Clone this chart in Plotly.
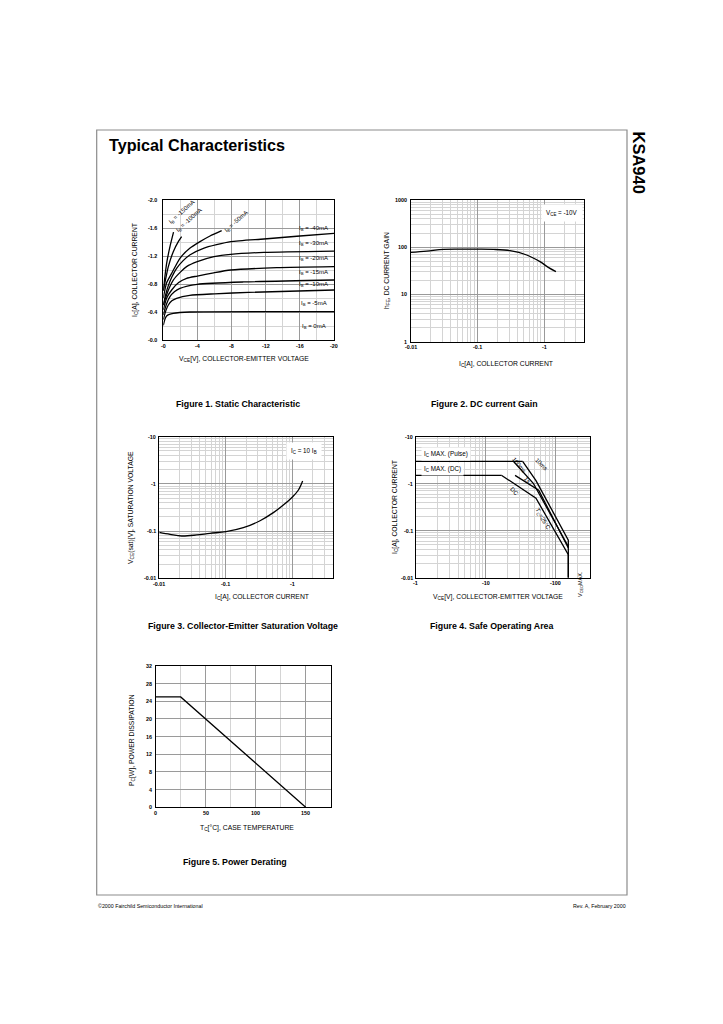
import math
import plotly.graph_objects as go

W, H = 723, 1024
FONT = "Liberation Sans, Arial, sans-serif"
MAJOR = "#9a9a9a"
MINOR = "#d4d4d4"

# ---- Figure 1: static characteristic (V_CE [V], I_C [A]) ----
ib_labels = ["-5mA", "-10mA", "-15mA", "-20mA", "-30mA", "-40mA", "-50mA", "-100mA", "-150mA"]
f1_v = [
    [0, -0.2, -0.39, -0.7, -1.17, -3.1, -20],
    [0, -0.3, -0.59, -1.0, -1.56, -3.1, -6, -10, -20],
    [0, -0.4, -0.78, -1.3, -1.95, -3.98, -9.4, -20],
    [0, -0.4, -0.98, -1.8, -2.73, -3.98, -5.9, -7.9, -13.3, -20],
    [0, -0.4, -0.8, -1.17, -2.0, -2.73, -3.98, -5.94, -7.9, -11.8, -20],
    [0, -0.3, -0.6, -1.0, -1.56, -2.3, -3.1, -4.7, -7.9, -11.8, -16, -20],
    [0, -0.4, -0.98, -1.95, -3.1, -4.3, -5.47, -6.84],
    [0, -0.59, -1.17, -1.76, -2.15],
    [0, -0.39, -0.78, -1.2],
]
f1_i = [
    [-0.21, -0.3, -0.343, -0.365, -0.381, -0.4, -0.405],
    [-0.29, -0.42, -0.5, -0.56, -0.595, -0.638, -0.66, -0.68, -0.714],
    [-0.36, -0.52, -0.62, -0.69, -0.738, -0.795, -0.829, -0.857],
    [-0.43, -0.6, -0.714, -0.82, -0.881, -0.914, -0.96, -1.0, -1.033, -1.048],
    [-0.5, -0.65, -0.77, -0.857, -0.97, -1.048, -1.119, -1.19, -1.224, -1.252, -1.271],
    [-0.5, -0.66, -0.78, -0.9, -1.024, -1.13, -1.214, -1.31, -1.405, -1.443, -1.486, -1.524],
    [-0.6, -0.82, -0.952, -1.167, -1.31, -1.405, -1.486, -1.562],
    [-0.7, -1.048, -1.262, -1.405, -1.476],
    [-0.714, -1.095, -1.333, -1.54],
]
f1_xticks = [0, -4, -8, -12, -16, -20]
f1_xtext = ["-0", "-4", "-8", "-12", "-16", "-20"]
f1_yticks = [0, -0.4, -0.8, -1.2, -1.6, -2.0]
f1_ytext = ["-0.0", "-0.4", "-0.8", "-1.2", "-1.6", "-2.0"]

# ---- Figure 2: DC current gain ----
f2_ic = [0.01, 0.0174, 0.031, 0.055, 0.1, 0.174, 0.309, 0.55, 0.87, 1.16, 1.51]
f2_hfe = [78, 83, 90, 91, 91, 90, 84.5, 68.5, 49.5, 37.5, 30.4]
ic_ticks = [0.01, 0.1, 1]
ic_text = ["-0.01", "-0.1", "-1"]
hfe_ticks = [1, 10, 100, 1000]
hfe_text = ["1", "10", "100", "1000"]

# ---- Figure 3: V_CE(sat) ----
f3_ic = [0.01, 0.0145, 0.0216, 0.0363, 0.0575, 0.1, 0.182, 0.324, 0.513, 0.724, 1.0, 1.22, 1.41]
f3_vce = [0.094, 0.0855, 0.0788, 0.0828, 0.0898, 0.0973, 0.118, 0.166, 0.246, 0.357, 0.536, 0.743, 1.15]
dec_ticks = [0.01, 0.1, 1, 10]
dec_text = ["-0.01", "-0.1", "-1", "-10"]

# ---- Figure 4: safe operating area ----
soa_names = ["IC MAX (Pulse)", "10ms", "100ms", "IC MAX (DC)", "1s", "DC"]
soa_v = [
    [1, 33.4],
    [33.4, 51.8, 150, 150],
    [24.6, 47.4, 150],
    [1, 16.8],
    [26, 56.6, 150],
    [16.8, 51.8, 150, 150],
]
soa_i = [
    [3, 3],
    [3, 1.16, 0.063, 0.01],
    [3, 1.02, 0.046],
    [1.5, 1.5],
    [1.5, 0.73, 0.043],
    [1.5, 0.49, 0.031, 0.01],
]
vce_ticks = [1, 10, 100]
vce_text = ["-1", "-10", "-100"]

# ---- Figure 5: power derating ----
f5_tc = [0, 25, 150]
f5_pc = [25, 25, 0]
tc_ticks = [0, 50, 100, 150]
pc_ticks = [0, 4, 8, 12, 16, 20, 24, 28, 32]

minor_vals = sorted(d * k for d in [0.001, 0.01, 0.1, 1, 10, 100] for k in range(2, 10))


def px(x):
    return x / W


def py(y):
    return 1 - y / H


def ax(domain, anchor, **kw):
    d = dict(domain=domain, anchor=anchor, showline=True, mirror=True, linecolor="black", linewidth=1.3,
             showgrid=True, gridcolor=MAJOR, gridwidth=1, zeroline=False, ticks="",
             showticklabels=False, fixedrange=True)
    d.update(kw)
    return d


fig = go.Figure()
line = dict(color="black", width=1.3)

for v, i, name in zip(f1_v, f1_i, ib_labels):
    fig.add_trace(go.Scatter(x=v, y=i, mode="lines", line=dict(shape="spline", smoothing=0.6, **line),
                             name=name, xaxis="x", yaxis="y"))
fig.add_trace(go.Scatter(x=f2_ic, y=f2_hfe, mode="lines", line=dict(shape="spline", **line),
                         xaxis="x2", yaxis="y2"))
fig.add_trace(go.Scatter(x=f3_ic, y=f3_vce, mode="lines", line=dict(shape="spline", **line),
                         xaxis="x3", yaxis="y3"))
for v, i, name in zip(soa_v, soa_i, soa_names):
    fig.add_trace(go.Scatter(x=v, y=i, mode="lines", line=line, name=name, xaxis="x4", yaxis="y4"))
fig.add_trace(go.Scatter(x=f5_tc, y=f5_pc, mode="lines", line=line, xaxis="x5", yaxis="y5"))

fig.update_layout(
    width=W, height=H, margin=dict(l=0, r=0, t=0, b=0), showlegend=False,
    paper_bgcolor="white", plot_bgcolor="white", font=dict(family=FONT, color="black"),
    xaxis=ax([px(163.3), px(334)], "y", range=[0, -20], tickvals=f1_xticks,
             minor=dict(tickvals=[-2, -6, -10, -14, -18], showgrid=True, gridcolor=MINOR)),
    yaxis=ax([py(340), py(200)], "x", range=[0, -2], tickvals=f1_yticks,
             minor=dict(tickvals=[-0.2, -0.6, -1.0, -1.4, -1.8], showgrid=True, gridcolor=MINOR)),
    xaxis2=ax([px(410.7), px(584)], "y2", type="log", range=[-2, 0.6], tickvals=ic_ticks,
              minor=dict(tickvals=minor_vals, showgrid=True, gridcolor=MINOR)),
    yaxis2=ax([py(341.7), py(200)], "x2", type="log", range=[0, 3], tickvals=hfe_ticks,
              minor=dict(tickvals=minor_vals, showgrid=True, gridcolor=MINOR)),
    xaxis3=ax([px(159.3), px(332.7)], "y3", type="log", range=[-2, 0.6], tickvals=ic_ticks,
              minor=dict(tickvals=minor_vals, showgrid=True, gridcolor=MINOR)),
    yaxis3=ax([py(578.3), py(436.7)], "x3", type="log", range=[-2, 1], tickvals=dec_ticks,
              minor=dict(tickvals=minor_vals, showgrid=True, gridcolor=MINOR)),
    xaxis4=ax([px(416), px(590)], "y4", type="log", range=[0, 2.486], tickvals=vce_ticks,
              minor=dict(tickvals=minor_vals, showgrid=True, gridcolor=MINOR)),
    yaxis4=ax([py(577.7), py(436.7)], "x4", type="log", range=[-2, 1], tickvals=dec_ticks,
              minor=dict(tickvals=minor_vals, showgrid=True, gridcolor=MINOR)),
    xaxis5=ax([px(155.7), px(330.7)], "y5", range=[0, 175], tickvals=tc_ticks,
              minor=dict(tickvals=[25, 75, 125], showgrid=True, gridcolor=MINOR)),
    yaxis5=ax([py(807.3), py(666)], "x5", range=[0, 32], tickvals=pc_ticks),
)

# page frame
fig.add_shape(type="rect", xref="paper", yref="paper", x0=px(96.7), x1=px(627), y0=py(895), y1=py(130),
              line=dict(color="#8c8c8c", width=1.2))

ann = []


def text(x, y, s, size=6, ref=("paper", "paper"), **kw):
    if ref == ("paper", "paper"):
        x, y = px(x), py(y)
    d = dict(x=x, y=y, text=s, showarrow=False, xref=ref[0], yref=ref[1],
             xanchor="center", yanchor="middle", borderpad=0,
             font=dict(size=size, family=FONT, color="black"))
    d.update(kw)
    ann.append(d)


def tick_labels(axn, xvals, xtext, ybottom, yvals, ytext, xleft, xlog=False, ylog=False):
    # tick labels drawn as annotations, placed on the axis' own scale
    tick_font = dict(size=5.4, family=FONT, color="black")
    for v, s in zip(xvals, xtext):
        ann.append(dict(x=math.log10(v) if xlog else v, y=py(ybottom + 5.5), xref="x" + axn, yref="paper",
                        text="<b>" + s + "</b>", showarrow=False, xanchor="center", yanchor="middle",
                        borderpad=0, font=tick_font))
    for v, s in zip(yvals, ytext):
        ann.append(dict(x=px(xleft - 2.5), y=math.log10(v) if ylog else v, xref="paper", yref="y" + axn,
                        text="<b>" + s + "</b>", showarrow=False, xanchor="right", yanchor="middle",
                        borderpad=0, font=tick_font))


tick_labels("", f1_xticks, f1_xtext, 340, f1_yticks, f1_ytext, 160.5)
tick_labels("2", ic_ticks, ic_text, 341.7, hfe_ticks, hfe_text, 410.7, xlog=True, ylog=True)
tick_labels("3", ic_ticks, ic_text, 578.3, dec_ticks, dec_text, 159.3, xlog=True, ylog=True)
tick_labels("4", vce_ticks, vce_text, 577.7, dec_ticks, dec_text, 416, xlog=True, ylog=True)
tick_labels("5", tc_ticks, [str(t) for t in tc_ticks], 807.3, pc_ticks, [str(t) for t in pc_ticks], 155.7)

text(107.5, 145, "<b>Typical Characteristics</b>", 16.2, xanchor="left")
text(638.5, 162, "<b>KSA940</b>", 16.5, textangle=90)
text(97, 906, "©2000 Fairchild Semiconductor International", 5.3, xanchor="left")
text(627, 906, "Rev. A, February 2000", 5.3, xanchor="right")

# captions
text(238, 404, "<b>Figure 1. Static Characteristic</b>", 8.8)
text(485, 404, "<b>Figure 2. DC current Gain</b>", 8.8)
text(243, 626, "<b>Figure 3. Collector-Emitter Saturation Voltage</b>", 8.8)
text(491, 626, "<b>Figure 4. Safe Operating Area</b>", 8.8)
text(235, 862, "<b>Figure 5. Power Derating</b>", 8.8)

# axis titles
T = 6.8
text(244, 359, "V<sub>CE</sub>[V], COLLECTOR-EMITTER VOLTAGE", T)
text(135, 270, "I<sub>C</sub>[A], COLLECTOR CURRENT", T, textangle=-90)
text(506, 364, "I<sub>C</sub>[A], COLLECTOR CURRENT", T)
text(387, 271, "h<sub>FE</sub>, DC CURRENT GAIN", T, textangle=-90)
text(262, 597, "I<sub>C</sub>[A], COLLECTOR CURRENT", T)
text(131, 508, "V<sub>CE</sub>(sat)[V], SATURATION VOLTAGE", T, textangle=-90)
text(498, 597, "V<sub>CE</sub>[V], COLLECTOR-EMITTER VOLTAGE", T)
text(395, 507, "I<sub>C</sub>[A], COLLECTOR CURRENT", T, textangle=-90)
text(247, 828, "T<sub>C</sub>[°C], CASE TEMPERATURE", T)
text(132, 740, "P<sub>C</sub>[W], POWER DISSIPATION", T, textangle=-90)

# figure 1 curve labels
L = 6
f1_lab_y = [-0.524, -0.786, -0.962, -1.167, -1.38, -1.60]
for lab, yv in zip(ib_labels[:6], f1_lab_y):
    text(-17.6, yv, "I<sub>B</sub> = " + lab, L, ref=("x", "y"))
text(-17.6, -0.19, "I<sub>B</sub> = 0mA", L, ref=("x", "y"))
text(-2.15, -1.82, "I<sub>B</sub> = -150mA", L, ref=("x", "y"), textangle=-42)
text(-3.0, -1.71, "I<sub>B</sub> = -100mA", L, ref=("x", "y"), textangle=-42)
text(-8.6, -1.69, "I<sub>B</sub> = -50mA", L, ref=("x", "y"), textangle=-42)

# boxed notes
text(562, 213, "V<sub>CE</sub> = -10V", 6.3, bgcolor="white", borderpad=4)
text(304, 451, "I<sub>C</sub> = 10 I<sub>B</sub>", 6.3, bgcolor="white", borderpad=4)
text(421, 454, "I<sub>C</sub> MAX. (Pulse)", 6.3, xanchor="left", bgcolor="white", borderpad=2)
text(421, 469, "I<sub>C</sub> MAX. (DC)", 6.3, xanchor="left", bgcolor="white", borderpad=2)

# SOA labels
text(541, 464, "10ms", L, textangle=45)
text(519, 465, "100ms", L, textangle=50)
text(527, 480, "1s", L, textangle=50)
text(514, 491, "DC", L, textangle=45)
text(543, 519, "T<sub>C</sub>=25°C", L, textangle=60)
text(580, 584, "V<sub>CEO</sub>MAX.", 5.5, textangle=-90)

fig.update_layout(annotations=ann)
fig.write_html("out.html", config={"displayModeBar": False},
               post_script="document.body.style.margin='0';")
